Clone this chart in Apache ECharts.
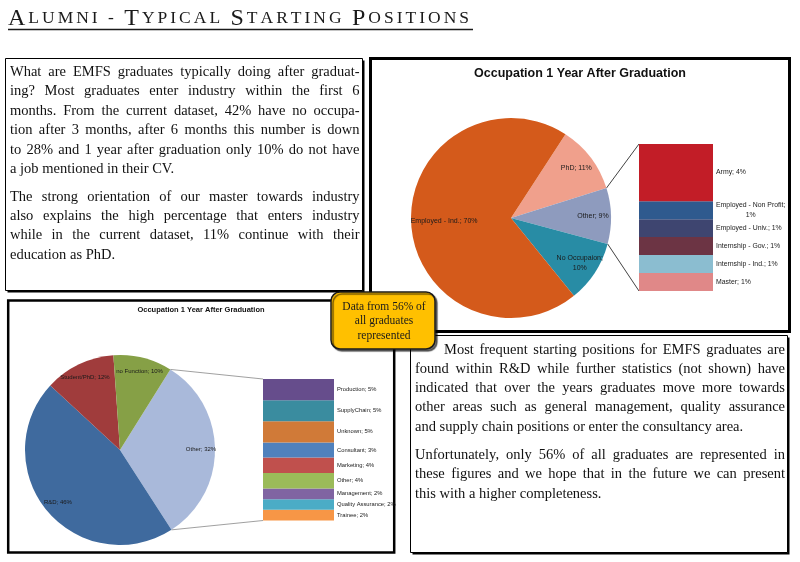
<!DOCTYPE html>
<html><head><meta charset="utf-8">
<script src="https://cdn.jsdelivr.net/npm/echarts@6/dist/echarts.min.js"></script>
<style>html,body{margin:0;padding:0;background:#fff}#c{width:800px;height:562px}</style>
</head><body><div id="c"></div>
<script>
// ---------- data ----------
const pageTitle = 'Alumni - Typical Starting Positions';
const chartTitle = 'Occupation 1 Year After Graduation';

const topPieNames  = ['PhD', 'Other', 'No Occupaion', 'Employed - Ind.'];
const topPieValues = [11, 9, 10, 70];
const topPieColors = ['#F0A08C', '#8E9BBE', '#288CA5', '#D45A1B'];

const topBarNames  = ['Master', 'Internship - Ind.', 'Internship - Gov.', 'Employed - Univ.', 'Employed - Non Profit', 'Army'];
const topBarValues = [1.1, 1.1, 1.1, 1.1, 1.1, 3.5];
const topBarColors = ['#E08888', '#8BBDD0', '#6C3444', '#3E4570', '#2F5A8E', '#C21D27'];

const botPieNames  = ['Other', 'R&D', 'Student/PhD', 'no Function'];
const botPieValues = [32, 46, 12, 10];
const botPieColors = ['#A9B9DA', '#3F6A9E', '#A03C3C', '#86A046'];

const botBarNames  = ['Trainee', 'Quality Assurance', 'Management', 'Other', 'Marketing', 'Consultant', 'Unknown', 'SupplyChain', 'Production'];
const botBarValues = [2.4, 2.4, 2.4, 3.5, 3.5, 3.4, 4.8, 4.7, 4.8];
const botBarColors = ['#F79646', '#4BACC6', '#8064A2', '#9BBB59', '#C0504D', '#4F81BD', '#D07A38', '#3A8C9F', '#664D8C'];

const calloutLines = ['Data from 56% of', 'all graduates', 'represented'];

const leftPara1 = [
  'What are EMFS graduates typically doing after graduat-',
  'ing? Most graduates enter industry within the first 6',
  'months. From the current dataset, 42% have no occupa-',
  'tion after 3 months, after 6 months this number is down',
  'to 28% and 1 year after graduation only 10% do not have',
  'a job mentioned in their CV.'
];
const leftPara2 = [
  'The strong orientation of our master towards industry',
  'also explains the high percentage that enters industry',
  'while in the current dataset, 11% continue with their',
  'education as PhD.'
];
const rightPara1 = [
  'Most frequent starting positions for EMFS graduates are',
  'found within R&D while further statistics (not shown) have',
  'indicated that over the years graduates move more towards',
  'other areas such as general management, quality assurance',
  'and supply chain positions or enter the consultancy area.'
];
const rightPara2 = [
  'Unfortunately, only 56% of all graduates are represented in',
  'these figures and we hope that in the future we can present',
  'this with a higher completeness.'
];

// ---------- helpers ----------
const SERIF = '"Liberation Serif", "Times New Roman", serif';
const SANS = '"Liberation Sans", Arial, sans-serif';
const NARROW = '"Liberation Sans Narrow", "Liberation Sans", Arial, sans-serif';
const PFS = 14.5;
const mctx = document.createElement('canvas').getContext('2d');
function measure(t) { mctx.font = PFS + 'px ' + SERIF; return mctx.measureText(t).width; }

function textStyle(extra) {
  return Object.assign({ textAlign: 'left', align: 'left', textVerticalAlign: 'middle', verticalAlign: 'middle' }, extra);
}
function lineEls(text, x, y, w, justify) {
  const st = { font: PFS + 'px ' + SERIF, fill: '#111' };
  if (!justify) return [{ type: 'text', z: 3, silent: true, x: x, y: y, style: textStyle(Object.assign({ text: text }, st)) }];
  const words = text.split(' ');
  const ws = words.map(measure);
  const total = ws.reduce((a, b) => a + b, 0);
  const gap = (w - total) / (words.length - 1);
  const out = [];
  let cx = x;
  words.forEach((wd, i) => {
    out.push({ type: 'text', z: 3, silent: true, x: cx, y: y, style: textStyle(Object.assign({ text: wd }, st)) });
    cx += ws[i] + gap;
  });
  return out;
}
function paraEls(lines, x, right, y0, lh, indent) {
  let out = [];
  lines.forEach((ln, i) => {
    const lx = x + (i === 0 ? (indent || 0) : 0);
    out = out.concat(lineEls(ln, lx, y0 + i * lh, right - lx, i < lines.length - 1));
  });
  return out;
}
function smallCaps(str) {
  let out = '';
  for (const ch of str) {
    if (ch === ' ') { out += '{sp| }'; continue; }
    const up = ch !== ch.toLowerCase();
    out += (up ? '{b|' : '{s|') + ch.toUpperCase() + '}';
  }
  return out;
}
function sum(a) { return a.reduce((x, y) => x + y, 0); }

function labelPie(center, radius, startAngle, names, values, showArr, fontSize, fmt) {
  return {
    type: 'pie', center: center, radius: [0, radius], startAngle: startAngle, silent: true, animation: false, z: 6,
    itemStyle: { color: 'transparent' }, labelLine: { show: false }, emphasis: { disabled: true },
    label: { show: true, position: 'inside', fontSize: fontSize, fontFamily: NARROW, color: '#1a1a1a', lineHeight: fontSize + 3, formatter: fmt },
    data: names.map((n, i) => ({ name: n, value: values[i], label: { show: showArr[i] } }))
  };
}
function barSeries(names, values, colors, gridIdx, fontSize, stack) {
  return names.map((n, i) => ({
    type: 'bar', name: n, stack: stack, xAxisIndex: gridIdx, yAxisIndex: gridIdx, barWidth: '100%',
    silent: true, animation: false, z: 5,
    itemStyle: { color: colors[i] },
    label: {
      show: true, position: 'right', distance: 3, fontSize: fontSize, fontFamily: NARROW, color: '#1a1a1a',
      formatter: n === 'Employed - Non Profit'
        ? '{a|' + n + ';}\n{a|' + Math.round(values[i]) + '%}'
        : n + '; ' + Math.round(values[i]) + '%',
      rich: { a: { align: 'center', fontSize: fontSize, fontFamily: NARROW, color: '#1a1a1a', lineHeight: fontSize + 3 } }
    },
    data: [values[i]]
  }));
}

const chart = echarts.init(document.getElementById('c'), null, { renderer: 'canvas' });

function buildOption(extraLines) {
  const topTotal = sum(topBarValues), botTotal = sum(botBarValues);
  const pieFmtTop = p => p.name === 'No Occupaion' ? p.name + ';\n' + p.value + '%' : p.name + '; ' + p.value + '%';
  const pieFmt = p => p.name + '; ' + p.value + '%';

  const graphics = [
    // page title
    { type: 'text', z: 3, silent: true, x: 8, y: 31, style: {
        text: smallCaps(pageTitle), textAlign: 'left', align: 'left', textVerticalAlign: 'bottom', verticalAlign: 'bottom',
        rich: {
          b: { fontSize: 24, fontFamily: SERIF, fill: '#1a1a1a', padding: [0, 3, 0, 0] },
          s: { fontSize: 17.5, fontFamily: SERIF, fill: '#1a1a1a', padding: [0, 3, 1, 0] },
          sp: { fontSize: 17.5, fontFamily: SERIF, fill: '#1a1a1a', padding: [0, 3, 1, 0] }
        } } },
    { type: 'line', z: 3, silent: true, shape: { x1: 8, y1: 29.5, x2: 473, y2: 29.5 }, style: { stroke: '#1a1a1a', lineWidth: 1.5 } },
    // box 1 (text, top left) with shadow
    { type: 'rect', z: 1, silent: true, shape: { x: 7.5, y: 60.5, width: 357, height: 232 }, style: { fill: '#000' } },
    { type: 'rect', z: 1, silent: true, shape: { x: 5.5, y: 58.5, width: 357, height: 232 }, style: { fill: '#fff', stroke: '#000', lineWidth: 1 } },
    // box 2 (top right chart)
    { type: 'rect', z: 1, silent: true, shape: { x: 370.5, y: 58.5, width: 419, height: 273 }, style: { fill: '#fff', stroke: '#000', lineWidth: 3 } },
    // box 4 (text, bottom right) with shadow
    { type: 'rect', z: 1, silent: true, shape: { x: 412.5, y: 337.5, width: 377, height: 217 }, style: { fill: '#000' } },
    { type: 'rect', z: 1, silent: true, shape: { x: 410.5, y: 335.5, width: 377, height: 217 }, style: { fill: '#fff', stroke: '#000', lineWidth: 1 } },
    // box 3 (bottom left chart)
    { type: 'rect', z: 1, silent: true, shape: { x: 8.2, y: 300.5, width: 386, height: 252 }, style: { fill: '#fff', stroke: '#000', lineWidth: 2.5 } },
    // chart titles
    { type: 'text', z: 3, silent: true, x: 580, y: 73.5, style: textStyle({ text: chartTitle, font: 'bold 12.5px ' + SANS, fill: '#111', textAlign: 'center', align: 'center' }) },
    { type: 'text', z: 3, silent: true, x: 201, y: 309.5, style: textStyle({ text: chartTitle, font: 'bold 7.5px ' + SANS, fill: '#111', textAlign: 'center', align: 'center' }) },
    // callout
    { type: 'rect', z: 50, silent: true, shape: { x: 331, y: 292, width: 104, height: 57, r: 9 },
      style: { fill: '#FFC000', stroke: '#1a1a1a', lineWidth: 1.5, shadowColor: 'rgba(0,0,0,0.55)', shadowOffsetX: 2, shadowOffsetY: 2, shadowBlur: 1 } }
  ];
  calloutLines.forEach((t, i) => {
    graphics.push({ type: 'text', z: 51, silent: true, x: 384, y: 306.5 + i * 14.5,
      style: textStyle({ text: t, font: '11.5px ' + SERIF, fill: '#1a1a1a', textAlign: 'center', align: 'center' }) });
  });
  const paras = []
    .concat(paraEls(leftPara1, 10, 359.5, 72, 19.45, 0))
    .concat(paraEls(leftPara2, 10, 359.5, 197, 19.3, 0))
    .concat(paraEls(rightPara1, 415, 785, 350, 19.2, 29))
    .concat(paraEls(rightPara2, 415, 785, 455, 19.5, 0));

  return {
    backgroundColor: '#fff',
    animation: false,
    graphic: { elements: graphics.concat(paras).concat(extraLines) },
    grid: [
      { left: 639, top: 144, width: 74, height: 147, containLabel: false },
      { left: 263, top: 379, width: 71, height: 141.5, containLabel: false }
    ],
    xAxis: [
      { type: 'category', gridIndex: 0, data: ['Other'], show: false },
      { type: 'category', gridIndex: 1, data: ['Other'], show: false }
    ],
    yAxis: [
      { type: 'value', gridIndex: 0, min: 0, max: topTotal, show: false },
      { type: 'value', gridIndex: 1, min: 0, max: botTotal, show: false }
    ],
    series: [
      { type: 'pie', center: [511, 218], radius: 100, startAngle: 57, silent: true, animation: false, z: 4,
        label: { show: false }, labelLine: { show: false },
        data: topPieNames.map((n, i) => ({ name: n, value: topPieValues[i], itemStyle: { color: topPieColors[i] } })) },
      labelPie([511, 218], 158, 57, topPieNames, topPieValues, [true, true, true, false], 7, pieFmtTop),
      labelPie([511, 218], 128, 57, topPieNames, topPieValues, [false, false, false, true], 7, pieFmtTop),
      { type: 'pie', center: [120, 450], radius: 95, startAngle: 58, silent: true, animation: false, z: 4,
        label: { show: false }, labelLine: { show: false },
        data: botPieNames.map((n, i) => ({ name: n, value: botPieValues[i], itemStyle: { color: botPieColors[i] } })) },
      labelPie([120, 450], 156, 58, botPieNames, botPieValues, [true, true, true, true], 6, pieFmt)
    ].concat(barSeries(topBarNames, topBarValues, topBarColors, 0, 6.9, 'top'))
     .concat(barSeries(botBarNames, botBarValues, botBarColors, 1, 5.8, 'bot'))
  };
}

chart.setOption(buildOption([]));

// connector lines from the "Other" slice edges to the stacked column corners
function sliceEdges(seriesIndex, dataIndex) {
  const l = chart.getModel().getSeriesByIndex(seriesIndex).getData().getItemLayout(dataIndex);
  return [
    [l.cx + l.r * Math.cos(l.startAngle), l.cy + l.r * Math.sin(l.startAngle)],
    [l.cx + l.r * Math.cos(l.endAngle), l.cy + l.r * Math.sin(l.endAngle)]
  ];
}
function gridRect(idx) {
  return chart.getModel().getComponent('grid', idx).coordinateSystem.getRect();
}
const lines = [];
try {
  const e1 = sliceEdges(0, topPieNames.indexOf('Other'));
  const r1 = gridRect(0);
  lines.push({ type: 'line', z: 3, silent: true, shape: { x1: e1[0][0], y1: e1[0][1], x2: r1.x, y2: r1.y }, style: { stroke: '#111', lineWidth: 0.8 } });
  lines.push({ type: 'line', z: 3, silent: true, shape: { x1: e1[1][0], y1: e1[1][1], x2: r1.x, y2: r1.y + r1.height }, style: { stroke: '#111', lineWidth: 0.8 } });
  const e2 = sliceEdges(3, botPieNames.indexOf('Other'));
  const r2 = gridRect(1);
  lines.push({ type: 'line', z: 3, silent: true, shape: { x1: e2[0][0], y1: e2[0][1], x2: r2.x, y2: r2.y }, style: { stroke: '#888', lineWidth: 0.8 } });
  lines.push({ type: 'line', z: 3, silent: true, shape: { x1: e2[1][0], y1: e2[1][1], x2: r2.x, y2: r2.y + r2.height }, style: { stroke: '#888', lineWidth: 0.8 } });
} catch (err) { console.error(err); }
chart.setOption(buildOption(lines), true);
</script>
</body></html>
